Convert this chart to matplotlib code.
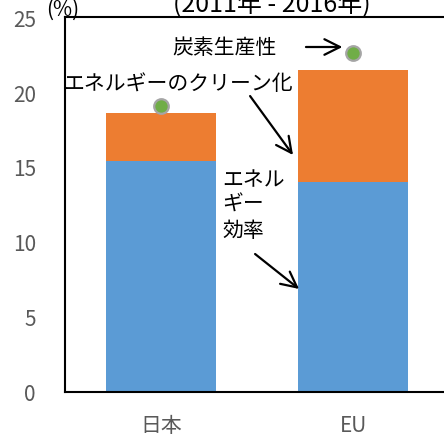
import numpy as np
import matplotlib
matplotlib.use("Agg")
import matplotlib.pyplot as plt

plt.rcParams['font.family'] = ['Noto Sans CJK JP', 'DejaVu Sans']

# --- data -------------------------------------------------------------
regions = ["日本", "EU"]
efficiency = [15.4, 14.0]      # エネルギー効率
clean = [3.2, 7.5]             # エネルギーのクリーン化
carbon_prod = [19.1, 22.6]     # 炭素生産性
yticks = [0, 5, 10, 15, 20, 25]

BLUE = "#5B9BD5"
ORANGE = "#ED7D31"
GREEN = "#70AD47"

fig = plt.figure(figsize=(4.44, 4.35), dpi=100)
ax = fig.add_axes([65 / 444, 42 / 435, 384 / 444, 375 / 435])

x = np.arange(len(regions))
ax.bar(x, efficiency, width=0.573, color=BLUE, zorder=2)
ax.bar(x, clean, width=0.573, bottom=efficiency, color=ORANGE, zorder=2)
ax.plot(x, carbon_prod, "o", ms=10.5, mfc=GREEN, mec="#A5A5A5", mew=1.6,
        linestyle="none", zorder=3)

ax.set_xlim(-0.5, 1.5)
ax.set_ylim(0, 25)
ax.set_yticks(yticks)
ax.set_xticks(x)
ax.set_xticklabels(regions)
ax.tick_params(axis="y", length=0, pad=21, labelsize=15, labelcolor="#595959")
ax.tick_params(axis="x", length=0, pad=16, labelsize=15, labelcolor="#595959")
for s in ax.spines.values():
    s.set_linewidth(1.5)
    s.set_color("black")

# (%) unit and period
fig.text(46 / 444, 1 - 10 / 435, "(%)", fontsize=15, ha="left", va="center")
fig.text(272 / 444, 1 - 12 / 435, "(2011年 - 2016年)", fontsize=18,
         ha="center", va="baseline")

# labels with arrows
arrow = dict(arrowstyle="->", lw=1.6, color="black", mutation_scale=28,
             shrinkA=0, shrinkB=0)
ax.text(0.333, 23.0, "炭素生産性", fontsize=15, ha="center", va="center")
ax.annotate("", xy=(0.945, 23.0), xytext=(0.755, 23.0), arrowprops=arrow)

ax.text(0.09, 20.6, "エネルギーのクリーン化", fontsize=15, ha="center", va="center")
ax.annotate("", xy=(0.6875, 15.8), xytext=(0.464, 19.73), arrowprops=arrow)

ax.text(0.318, 14.95, "エネル\nギー\n効率", fontsize=15, ha="left", va="top",
        linespacing=1.2)
ax.annotate("", xy=(0.719, 6.87), xytext=(0.49, 9.2), arrowprops=arrow)

fig.savefig("out.png", dpi=100)
